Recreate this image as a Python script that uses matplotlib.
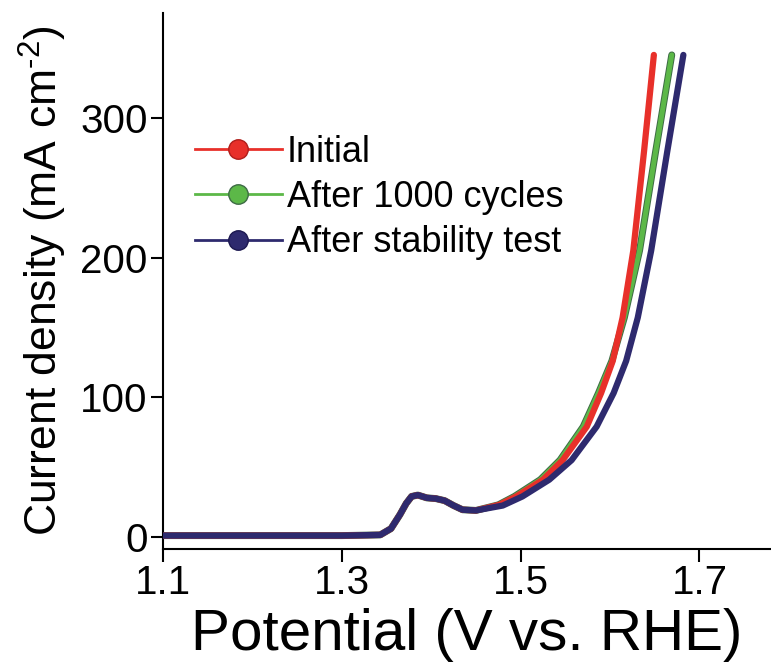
import numpy as np
import matplotlib
matplotlib.use("Agg")
import matplotlib.pyplot as plt
import matplotlib.patheffects as pe
from matplotlib.lines import Line2D

plt.rcParams['font.family'] = ['Liberation Sans', 'DejaVu Sans']
plt.rcParams['mathtext.fontset'] = 'custom'
plt.rcParams['mathtext.rm'] = 'Liberation Sans'

# LSV curves (V vs. RHE, mA cm-2)
v_initial = [1.10, 1.20, 1.30, 1.343, 1.355, 1.365, 1.372, 1.378, 1.385, 1.395,
             1.405, 1.415, 1.425, 1.435, 1.45, 1.476, 1.495, 1.525, 1.547,
             1.574, 1.59, 1.603, 1.614, 1.626, 1.638, 1.649]
j_initial = [1, 1, 1, 1.5, 6, 16, 24, 29, 30, 28,
             27.5, 26, 22.5, 19.5, 19, 23, 29, 41, 55,
             79, 103, 126, 157, 205, 276, 345]

v_1000 = [1.10, 1.20, 1.30, 1.343, 1.355, 1.365, 1.372, 1.378, 1.385, 1.395,
          1.405, 1.415, 1.425, 1.435, 1.45, 1.475, 1.493, 1.522, 1.544,
          1.570, 1.587, 1.602, 1.616, 1.633, 1.651, 1.669]
j_1000 = [1, 1, 1, 1.5, 6, 16, 24, 29, 30, 28,
          27.5, 26, 22.5, 19.5, 19, 23, 29, 41, 55,
          79, 103, 126, 157, 205, 276, 345]

v_stab = [1.10, 1.20, 1.30, 1.343, 1.355, 1.365, 1.372, 1.378, 1.385, 1.395,
          1.405, 1.415, 1.425, 1.435, 1.45, 1.48, 1.502, 1.532, 1.557,
          1.585, 1.604, 1.618, 1.631, 1.646, 1.664, 1.682]
j_stab = [1, 1, 1, 1.5, 6, 16, 24, 29, 30, 28,
          27.5, 26, 22.5, 19.5, 19, 22.5, 29, 41, 55,
          79, 103, 126, 157, 205, 276, 345]

labels = ["Initial", "After 1000 cycles", "After stability test"]
colors = ["#e8302a", "#5cb848", "#2e2a6e"]
edges = ["#b01e1a", "#3d6b45", "#1c1850"]

fig = plt.figure(figsize=(7.71, 6.72), dpi=100)
ax = fig.add_axes([163 / 771, 1 - 549 / 672, 1 - 163 / 771, (549 - 13) / 672])

ax.plot(v_1000, j_1000, color=colors[1], lw=3.6, solid_capstyle='round',
        solid_joinstyle='round',
        path_effects=[pe.withStroke(linewidth=5, foreground=edges[1])], zorder=2)
ax.plot(v_initial, j_initial, color=colors[0], lw=4.5, solid_capstyle='round',
        solid_joinstyle='round', zorder=3)
ax.plot(v_stab, j_stab, color=colors[2], lw=4.5, solid_capstyle='round',
        solid_joinstyle='round', zorder=4)

ax.set_xlim(1.1, 1.78)
ax.set_ylim(-8.6, 375)
ax.set_xticks([1.1, 1.3, 1.5, 1.7])
ax.set_xticklabels(["1.1", "1.3", "1.5", "1.7"])
ax.set_yticks([0, 100, 200, 300])

for s in ["top", "right"]:
    ax.spines[s].set_visible(False)
for s in ["left", "bottom"]:
    ax.spines[s].set_linewidth(1.5)
ax.tick_params(direction='out', length=9, width=1.5, labelsize=29, pad=2)

ax.set_xlabel("Potential (V vs. RHE)", fontsize=42, labelpad=4)
ax.set_ylabel("Current density (mA cm$^{\\text{-}2}$)", fontsize=32, labelpad=8)

handles = [Line2D([], [], color=c, lw=2, marker='o', markersize=14,
                  markerfacecolor=c, markeredgecolor=e, markeredgewidth=1)
           for c, e in zip(colors, edges)]
fig.legend(handles, labels, loc='upper left',
           bbox_to_anchor=(195 / 771, 1 - 135 / 672), frameon=False,
           fontsize=26, handlelength=2.4, handletextpad=0.15,
           labelspacing=0.28, borderpad=0, borderaxespad=0)

fig.savefig("out.png", dpi=100)
